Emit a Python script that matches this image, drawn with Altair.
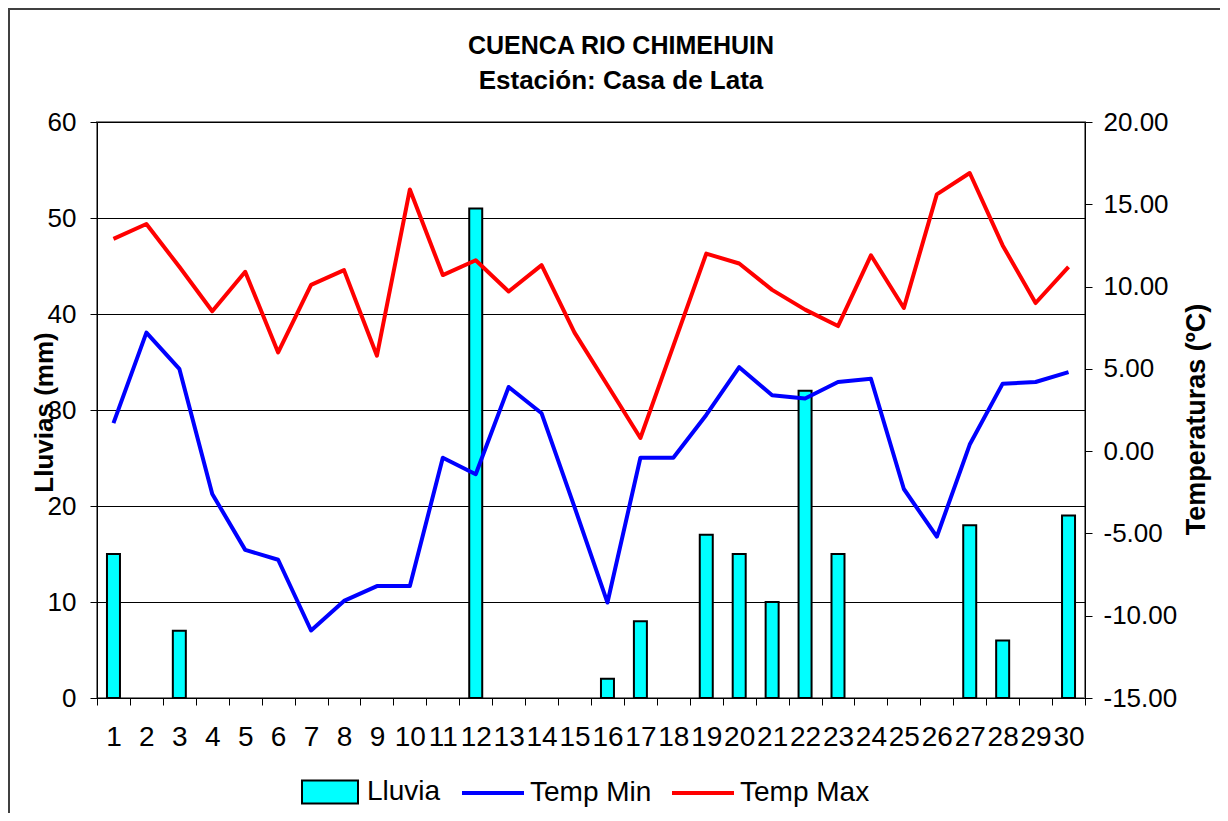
import altair as alt
import pandas as pd

# ---- data ----
dias = [1, 2, 3, 4, 5, 6, 7, 8, 9, 10, 11, 12, 13, 14, 15,
        16, 17, 18, 19, 20, 21, 22, 23, 24, 25, 26, 27, 28, 29, 30]
lluvia = [15, 0, 7, 0, 0, 0, 0, 0, 0, 0, 0, 51, 0, 0, 0,
          2, 8, 0, 17, 15, 10, 32, 15, 0, 0, 0, 18, 6, 0, 19]
temp_min = [1.7, 7.2, 5.0, -2.6, -6.0, -6.6, -10.9, -9.1, -8.2, -8.2, -0.4, -1.4, 3.9, 2.3, -3.4,
            -9.2, -0.4, -0.4, 2.2, 5.1, 3.4, 3.2, 4.2, 4.4, -2.3, -5.2, 0.4, 4.1, 4.2, 4.8]
temp_max = [12.9, 13.8, 11.2, 8.5, 10.9, 6.0, 10.1, 11.0, 5.8, 15.9, 10.7, 11.6, 9.7, 11.3, 7.2,
            4.0, 0.8, 6.4, 12.0, 11.4, 9.8, 8.6, 7.6, 11.9, 8.7, 15.6, 16.9, 12.5, 9.0, 11.2]

lluvia_ticks = [0, 10, 20, 30, 40, 50, 60]
temp_ticks = [-15, -10, -5, 0, 5, 10, 15, 20]
series_bar = ["Lluvia"]
series_line = ["Temp Min", "Temp Max"]
titulo = ["CUENCA RIO CHIMEHUIN", "Estación: Casa de Lata"]

FONT = "Liberation Sans"

df_bar = pd.DataFrame({"dia": dias, "lluvia": lluvia, "serie": series_bar[0]})
df_line = pd.concat([
    pd.DataFrame({"dia": dias, "temp": temp_min, "serie": series_line[0]}),
    pd.DataFrame({"dia": dias, "temp": temp_max, "serie": series_line[1]}),
], ignore_index=True)

x_enc = alt.X(
    "dia:O",
    scale=alt.Scale(paddingInner=0, paddingOuter=0),
    axis=alt.Axis(title=None, labelAngle=0, tickBand="extent", tickSize=7,
                  labelFontSize=28, labelPadding=18, labelOverlap=False,
                  labelBound=False, grid=False),
)

# chart-area frame (decoration)
frame = alt.Chart(alt.Data(values=[{"k": 1}])).mark_rect(
    fill="transparent", stroke="#404040", strokeWidth=2
).encode(
    x=alt.value(-88), x2=alt.value(1300), y=alt.value(-113), y2=alt.value(800)
)

# chart title as text
t1 = alt.Chart(alt.Data(values=[{"t": titulo[0]}])).mark_text(
    font=FONT, fontSize=25, fontWeight="bold", color="black",
    align="center", baseline="alphabetic"
).encode(text="t:N", x=alt.value(524), y=alt.value(-68))
t2 = alt.Chart(alt.Data(values=[{"t": titulo[1]}])).mark_text(
    font=FONT, fontSize=26, fontWeight="bold", color="black",
    align="center", baseline="alphabetic"
).encode(text="t:N", x=alt.value(524), y=alt.value(-33))

bars = alt.Chart(df_bar).transform_filter("datum.lluvia > 0").mark_bar(
    size=13, stroke="black", strokeWidth=2
).encode(
    x=x_enc,
    y=alt.Y("lluvia:Q",
            scale=alt.Scale(domain=[0, 60], nice=False),
            axis=alt.Axis(orient="left", values=lluvia_ticks, title="Lluvias (mm)",
                          grid=True, gridColor="black", gridWidth=1, gridOpacity=1,
                          tickSize=7, labelFontSize=26, labelPadding=14,
                          titleFontSize=26, titleFontWeight="bold", titleAngle=270,
                          titleX=-53, titleY=290, titleAlign="center",
                          titleBaseline="middle")),
    fill=alt.Fill("serie:N",
                  scale=alt.Scale(domain=series_bar, range=["#00FFFF"]),
                  legend=alt.Legend(orient="none", legendX=204, legendY=641,
                                    title=None, padding=0,
                                    symbolType="M-1,-0.41H1V0.41H-1Z",
                                    symbolSize=3136, symbolStrokeColor="black",
                                    symbolStrokeWidth=2, symbolFillColor="#00FFFF",
                                    labelFontSize=28, labelOffset=8,
                                    direction="horizontal")),
)

lines = alt.Chart(df_line).mark_line(strokeWidth=4, strokeJoin="round").encode(
    x=alt.X("dia:O"),
    y=alt.Y("temp:Q",
            scale=alt.Scale(domain=[-15, 20], nice=False),
            axis=alt.Axis(orient="right", values=temp_ticks,
                          labelExpr="(datum.value < 0 ? '-' : '') + format(abs(datum.value), '.2f')",
                          title="Temperaturas (ºC)", grid=False, tickSize=7,
                          labelFontSize=26, labelPadding=11,
                          titleFontSize=27, titleFontWeight="bold", titleAngle=270,
                          titleX=111, titleY=297, titleAlign="center",
                          titleBaseline="middle")),
    stroke=alt.Stroke("serie:N",
                      scale=alt.Scale(domain=series_line, range=["#0000FF", "#FF0000"]),
                      legend=alt.Legend(orient="none", legendX=363, legendY=638,
                                        title=None, padding=0, symbolType="stroke",
                                        symbolSize=3844, symbolStrokeWidth=4,
                                        labelFontSize=28, labelOffset=4,
                                        columnPadding=12, direction="horizontal")),
)

chart = alt.layer(frame, t1, t2, bars, lines).resolve_scale(
    y="independent", fill="independent", stroke="independent"
).properties(
    width=988, height=576,
    autosize=alt.AutoSizeParams(type="none"),
    padding={"left": 89, "top": 114, "right": 135, "bottom": 115},
).configure_view(
    stroke="#808080", strokeWidth=2
).configure_axis(
    labelFont=FONT, titleFont=FONT, labelColor="black", titleColor="black",
    domainColor="black", tickColor="black", domainWidth=1, tickWidth=1
).configure_legend(
    labelFont=FONT, labelColor="black"
)

chart.save("out.html", embed_options={"renderer": "svg", "actions": False})
